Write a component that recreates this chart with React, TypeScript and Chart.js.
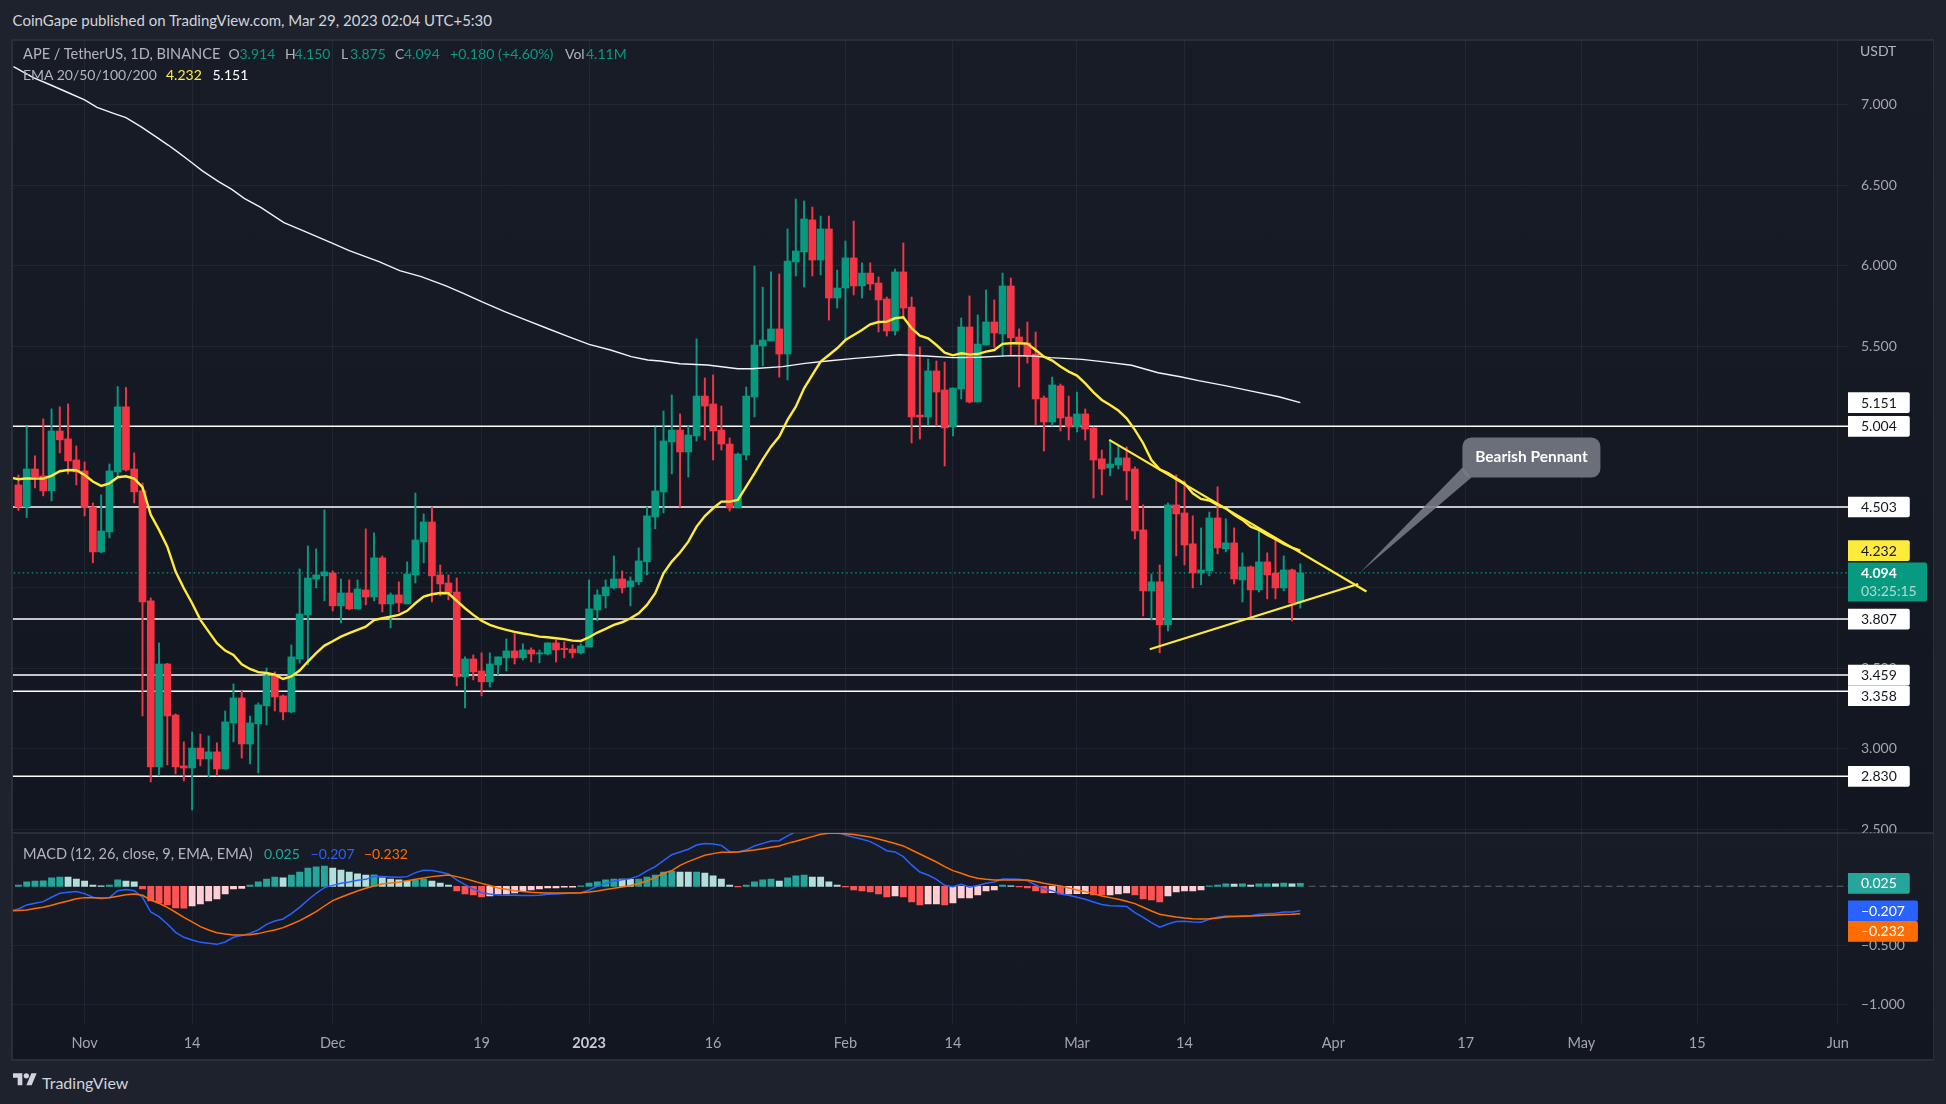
import React, { useEffect, useRef } from "react";
import { Chart, registerables } from "chart.js";

Chart.register(...registerables);

const FONT = "Lato, 'Open Sans', sans-serif";

// Day numbers count from 1 Nov 2022 = 0. The first candle is day -8.
const FIRST_CANDLE_DAY = -8;
const opens = [
  4.640,4.503,4.739,4.696,4.603,4.975,4.926,4.795,4.727,4.503,
  4.224,4.348,4.721,5.125,4.739,4.603,3.920,2.889,3.528,3.211,
  2.895,2.882,3.006,2.938,2.982,2.876,3.162,3.317,3.031,3.156,
  3.268,3.454,3.330,3.230,3.559,3.833,4.056,4.075,4.093,3.889,
  3.969,3.870,3.988,3.944,4.187,3.901,3.957,3.901,4.081,4.286,
  4.410,4.081,4.031,3.975,3.448,3.559,3.485,3.417,3.522,3.566,
  3.609,3.566,3.615,3.590,3.590,3.659,3.621,3.621,3.597,3.634,
  3.864,3.951,4.000,4.056,4.006,4.038,4.162,4.441,4.596,4.907,
  4.981,4.845,4.944,5.192,5.143,4.981,4.894,4.497,4.826,5.186,
  5.503,5.534,5.609,5.453,6.025,6.087,6.286,6.037,6.230,5.801,
  5.863,6.050,5.876,5.956,5.894,5.795,5.596,5.963,5.745,5.074,
  5.062,5.348,5.230,5.000,5.236,5.621,5.155,5.509,5.652,5.578,
  5.876,5.559,5.522,5.453,5.180,5.031,5.255,5.062,5.000,5.081,
  4.994,4.802,4.746,4.764,4.808,4.739,4.361,3.982,4.038,3.771,
  4.516,4.466,4.274,4.093,4.106,4.435,4.243,4.280,4.050,4.131,
  3.988,4.162,4.093,4.000,4.112,3.914,
];
const highs = [
  4.702,5.002,4.820,5.050,5.112,5.125,5.143,4.882,4.783,4.528,
  4.578,4.770,5.251,5.245,4.839,4.652,3.938,3.659,3.532,3.218,
  3.044,3.106,3.093,3.081,3.038,3.236,3.404,3.361,3.205,3.286,
  3.503,3.479,3.336,3.646,4.118,4.261,4.243,4.485,4.106,4.056,
  4.050,4.050,4.367,4.342,4.199,3.969,4.038,4.162,4.590,4.460,
  4.503,4.143,4.081,4.062,3.572,3.584,3.597,3.597,3.572,3.684,
  3.715,3.653,3.628,3.615,3.659,3.677,3.665,3.646,3.653,4.050,
  3.988,4.050,4.199,4.106,4.069,4.249,4.503,5.000,5.099,5.199,
  5.081,5.006,5.547,5.304,5.323,5.130,4.932,4.838,5.248,5.999,
  5.869,5.963,5.950,6.230,6.416,6.404,6.366,6.310,6.310,5.975,
  6.155,6.279,6.019,6.019,5.932,5.807,5.981,6.143,5.807,5.497,
  5.422,5.410,5.403,5.242,5.677,5.814,5.696,5.851,5.789,5.956,
  5.925,5.609,5.652,5.590,5.192,5.310,5.267,5.192,5.217,5.112,
  5.000,4.857,4.920,4.882,4.876,4.752,4.516,4.087,4.143,4.528,
  4.702,4.665,4.448,4.373,4.472,4.628,4.429,4.373,4.218,4.137,
  4.361,4.218,4.305,4.199,4.118,4.150,
];
const lows = [
  4.481,4.437,4.621,4.572,4.541,4.839,4.708,4.640,4.447,4.156,
  4.218,4.311,4.696,4.727,4.528,3.205,2.795,2.833,2.901,2.845,
  2.801,2.621,2.895,2.826,2.833,2.876,3.044,2.944,2.907,2.851,
  3.149,3.236,3.181,3.224,3.534,3.522,4.000,3.920,3.857,3.783,
  3.864,3.870,3.895,3.920,3.851,3.752,3.851,3.901,4.031,4.156,
  3.913,3.951,3.926,3.392,3.255,3.429,3.330,3.385,3.460,3.485,
  3.528,3.553,3.541,3.535,3.584,3.541,3.566,3.566,3.590,3.634,
  3.795,3.876,3.994,3.969,3.889,4.019,4.081,4.367,4.466,4.708,
  4.503,4.689,4.913,4.919,4.795,4.857,4.478,4.497,4.795,5.062,
  5.379,5.534,5.310,5.292,5.938,5.869,5.938,5.944,5.664,5.739,
  5.540,5.820,5.801,5.851,5.590,5.565,5.571,5.683,4.901,4.925,
  5.012,5.006,4.758,4.944,5.174,5.149,5.155,5.509,5.495,5.441,
  5.441,5.248,5.397,5.012,4.851,5.006,4.975,4.919,4.969,4.919,
  4.559,4.578,4.696,4.739,4.547,4.305,3.826,3.801,3.597,3.733,
  4.199,4.143,4.000,4.019,4.075,4.212,4.224,4.025,3.913,3.814,
  3.975,3.932,3.932,3.982,3.795,3.875,
];
const closes = [
  4.503,4.739,4.690,4.603,4.975,4.920,4.789,4.721,4.499,4.224,
  4.354,4.727,5.125,4.733,4.597,3.913,2.889,3.528,3.205,2.889,
  2.882,3.006,2.938,2.982,2.876,3.168,3.317,3.031,3.162,3.274,
  3.454,3.323,3.230,3.572,3.839,4.062,4.081,4.100,3.889,3.969,
  3.870,3.994,3.944,4.187,3.901,3.957,3.907,4.087,4.298,4.410,
  4.075,4.025,3.969,3.448,3.559,3.479,3.417,3.528,3.572,3.609,
  3.566,3.615,3.590,3.597,3.659,3.615,3.617,3.597,3.640,3.870,
  3.957,4.006,4.056,4.000,4.044,4.168,4.448,4.603,4.913,4.981,
  4.845,4.950,5.192,5.130,4.975,4.894,4.497,4.832,5.192,5.509,
  5.540,5.609,5.453,6.031,6.093,6.292,6.037,6.230,5.801,5.863,
  6.050,5.876,5.956,5.888,5.789,5.596,5.963,5.739,5.062,5.062,
  5.348,5.217,4.994,5.242,5.621,5.155,5.515,5.652,5.584,5.876,
  5.553,5.515,5.441,5.174,5.031,5.261,5.056,5.000,5.081,4.987,
  4.795,4.739,4.770,4.808,4.727,4.354,3.982,4.038,3.771,4.516,
  4.460,4.267,4.093,4.112,4.435,4.249,4.280,4.056,4.131,3.988,
  4.162,4.081,4.000,4.112,3.907,4.094,
];

// EMA 20, one reading per day from day -9.
const EMA_FIRST_DAY = -9;
const ema20 = [
  4.686,4.675,4.681,4.679,4.679,4.696,4.725,4.733,4.731,4.702,
  4.661,4.634,4.650,4.688,4.694,4.679,4.626,4.454,4.361,4.257,
  4.102,3.998,3.905,3.802,3.729,3.657,3.611,3.584,3.526,3.497,
  3.477,3.472,3.462,3.435,3.450,3.487,3.543,3.595,3.642,3.669,
  3.698,3.719,3.740,3.760,3.800,3.812,3.822,3.833,3.858,3.905,
  3.947,3.961,3.969,3.967,3.920,3.874,3.833,3.796,3.771,3.754,
  3.740,3.727,3.717,3.709,3.698,3.694,3.688,3.682,3.673,3.671,
  3.694,3.723,3.746,3.771,3.787,3.812,3.843,3.895,3.967,4.091,
  4.164,4.220,4.288,4.381,4.447,4.495,4.536,4.536,4.547,4.630,
  4.712,4.799,4.878,4.940,5.044,5.126,5.240,5.323,5.406,5.447,
  5.489,5.540,5.571,5.602,5.638,5.652,5.654,5.675,5.681,5.613,
  5.567,5.551,5.509,5.462,5.445,5.458,5.451,5.453,5.468,5.478,
  5.516,5.520,5.520,5.518,5.478,5.437,5.412,5.375,5.344,5.319,
  5.271,5.215,5.168,5.137,5.102,5.054,4.982,4.899,4.795,4.737,
  4.713,4.682,4.650,4.588,4.553,4.543,4.516,4.495,4.454,4.423,
  4.381,4.361,4.330,4.303,4.274,4.251,4.232,
];

// EMA 200, read where the curve bends.
const ema200Days = [
  -8.6,-6.2,-4.1,-2.1,0,1.5,3.5,5,6.8,8.6,10.1,11.2,12.9,14.2,16.2,17.8,19.3,21.3,24.1,26.4,30,32,35.6,38.1,40.7,43.7,
  45.8,48,50.8,53.4,55.9,58.5,61,63.6,66.1,68.1,69.6,72,75.3,79,80.7,84.4,87.1,89.8,93.1,95.8,98.5,101.7,105,108.2,112,
  114.7,116.8,120.6,123.3,126.6,129.8,132.5,134.7,137.9,141.1,144.4,147,
];
const ema200Values = [
  7.238,7.170,7.124,7.079,7.031,6.985,6.948,6.921,6.865,6.803,6.751,6.710,6.644,6.592,6.524,6.476,6.420,6.364,6.269,6.219,6.140,6.095,6.027,5.971,5.934,5.876,
  5.830,5.778,5.716,5.664,5.613,5.561,5.513,5.478,5.437,5.416,5.410,5.393,5.385,5.362,5.362,5.375,5.395,5.410,5.426,5.437,5.449,5.441,5.431,5.433,5.443,
  5.441,5.431,5.420,5.404,5.383,5.337,5.312,5.288,5.257,5.223,5.188,5.151,
];

const levels = [5.004, 4.503, 3.807, 3.459, 3.358, 2.83];
const lastPrice = 4.094;
const ema20Last = 4.232;
const ema200Last = 5.151;

const pennantUpperDays = [123.9, 155.0];
const pennantUpperPrices = [4.92, 3.978];
const pennantLowerDays = [128.8, 154.0];
const pennantLowerPrices = [3.619, 4.025];
const calloutText = "Bearish Pennant";
const calloutTipDay = 154.2;
const calloutTipPrice = 4.094;

const priceTicks = [2.5, 3, 3.5, 4, 4.5, 5, 5.5, 6, 6.5, 7];
const macdTicks = [-1, -0.5];
const dayTicks = [0, 13, 30, 48, 61, 76, 92, 105, 120, 133, 151, 167, 181, 195, 212];
const dayTickLabels = ["Nov", "14", "Dec", "19", "2023", "16", "Feb", "14", "Mar", "14", "Apr", "17", "May", "15", "Jun"];

// MACD histogram, one bar per candle.
const histogram = [
  .011,.037,.045,.046,.071,.079,.078,.062,.045,.011,
  .003,.011,.054,.045,.037,-.023,-.124,-.141,-.158,-.184,
  -.185,-.167,-.150,-.124,-.107,-.065,-.023,-.017,.011,.037,
  .062,.079,.071,.096,.121,.155,.164,.172,.155,.138,
  .121,.105,.096,.097,.071,.062,.054,.045,.054,.062,
  .045,.028,.011,-.040,-.065,-.073,-.090,-.082,-.065,-.064,
  -.056,-.040,-.031,-.023,-.014,-.013,-.008,-.007,.003,.028,
  .037,.054,.062,.061,.060,.062,.079,.096,.121,.130,
  .121,.120,.121,.113,.088,.062,.011,-.006,.011,.037,
  .054,.062,.045,.071,.088,.096,.079,.078,.037,.011,
  -.006,-.031,-.040,-.048,-.065,-.090,-.082,-.090,-.133,-.158,
  -.150,-.149,-.158,-.141,-.099,-.098,-.073,-.040,-.031,.011,
  .003,-.006,-.014,-.040,-.056,-.055,-.065,-.064,-.063,-.062,
  -.073,-.074,-.073,-.065,-.056,-.073,-.107,-.116,-.133,-.082,
  -.048,-.040,-.039,-.031,.003,.011,.020,.019,.020,.011,
  .020,.021,.020,.028,.020,.025,
];
// MACD and signal lines, one reading per day from day -9.
const macdLine = [
  -.209,-.192,-.158,-.144,-.130,-.093,-.059,-.051,-.045,-.062,
  -.093,-.105,-.096,-.037,-.028,-.037,-.093,-.218,-.257,-.319,
  -.390,-.432,-.455,-.475,-.483,-.492,-.472,-.432,-.418,-.398,
  -.370,-.322,-.294,-.277,-.232,-.178,-.116,-.059,-.011,.008,
  .025,.037,.051,.059,.082,.082,.079,.076,.082,.116,
  .136,.133,.121,.105,.054,.014,-.023,-.054,-.065,-.073,
  -.076,-.076,-.079,-.079,-.076,-.068,-.065,-.062,-.056,-.056,
  -.031,0,.025,.045,.056,.065,.088,.130,.167,.218,
  .268,.291,.314,.350,.362,.359,.347,.294,.291,.308,
  .342,.364,.384,.387,.427,.463,.492,.520,.534,.500,
  .463,.435,.415,.398,.379,.342,.302,.291,.251,.181,
  .121,.096,.059,.008,-.003,.017,-.008,.006,.025,.037,
  .062,.062,.059,.048,.011,-.023,-.037,-.065,-.076,-.093,
  -.110,-.133,-.155,-.164,-.167,-.172,-.223,-.263,-.308,-.347,
  -.319,-.299,-.297,-.302,-.305,-.280,-.263,-.251,-.251,-.251,
  -.249,-.237,-.232,-.229,-.218,-.218,-.207,
];
const signalLine = [
  -.209,-.206,-.201,-.189,-.178,-.161,-.141,-.124,-.105,-.096,
  -.096,-.099,-.096,-.085,-.071,-.065,-.076,-.116,-.144,-.178,
  -.220,-.263,-.302,-.342,-.370,-.393,-.404,-.412,-.412,-.410,
  -.401,-.384,-.370,-.350,-.322,-.291,-.254,-.215,-.167,-.121,
  -.093,-.065,-.040,-.017,.003,.020,.028,.034,.048,.059,
  .071,.082,.090,.096,.082,.065,.045,.025,.006,-.014,
  -.025,-.037,-.045,-.051,-.054,-.056,-.056,-.056,-.056,-.054,
  -.048,-.040,-.028,-.017,-.006,.006,.023,.045,.076,.110,
  .133,.178,.209,.237,.263,.277,.288,.288,.291,.299,
  .308,.319,.331,.342,.364,.381,.401,.421,.441,.449,
  .449,.446,.438,.429,.418,.401,.381,.362,.342,.308,
  .274,.240,.206,.167,.133,.110,.085,.068,.059,.054,
  .054,.054,.054,.054,.040,.025,.014,.003,-.014,-.031,
  -.045,-.062,-.082,-.096,-.110,-.127,-.147,-.178,-.209,-.237,
  -.249,-.260,-.268,-.274,-.277,-.274,-.268,-.260,-.257,-.254,
  -.251,-.249,-.246,-.243,-.240,-.237,-.232,
];
const macdLast = 0.025;
const macdLineLast = -0.207;
const signalLast = -0.232;

const UP = "#089981";
const DOWN = "#f23645";
const GRID = "rgba(240,243,250,0.06)";
const TICK = "#a3a6af";
const X_MIN = -8.658;
const X_MAX = 213.23;
const NUM_SIZE = 14;

const candleDays = opens.map((_, i) => FIRST_CANDLE_DAY + i);
const candleColors = opens.map((o, i) => (closes[i] >= o ? UP : DOWN));
const pairs = (xs: number[], ys: number[]) => xs.map((x, i) => ({ x, y: ys[i] }));
const daily = (first: number, ys: number[]) => ys.map((y, i) => ({ x: first + i, y }));
const fmt = (v: number) => (v < 0 ? "\u2212" : "") + Math.abs(v).toFixed(3);

const histColors = histogram.map((v, i) => {
  const prev = i > 0 ? histogram[i - 1] : 0;
  if (v >= 0) return v >= prev ? "#26a69a" : "#b2dfdb";
  return v < prev ? "#ff5252" : "#ffcdd2";
});

type Tag = { value: number; text: string; bg: string; fg: string; sub?: string };

const tagPlugin = (id: string, tags: Tag[]) => ({
  id,
  afterDraw(chart: any) {
    const { ctx } = chart;
    const y = chart.scales.y;
    const left = chart.chartArea.right;
    const H = 20.7;
    const items = tags
      .map((t) => ({ ...t, cy: y.getPixelForValue(t.value) }))
      .sort((a, b) => a.cy - b.cy);
    let lastBottom = -1e9;
    ctx.save();
    ctx.font = `${NUM_SIZE}px ${FONT}`;
    ctx.textBaseline = "middle";
    ctx.textAlign = "left";
    for (const t of items) {
      let top = t.cy - H / 2;
      if (top < lastBottom) top = lastBottom;
      const h = t.sub ? 39 : H;
      const w = t.sub ? 79 : Math.max(58, 13 + ctx.measureText(t.text).width + 13);
      ctx.fillStyle = t.bg;
      ctx.beginPath();
      ctx.roundRect(left, top, w, h, [0, 2, 2, 0]);
      ctx.fill();
      ctx.fillStyle = t.fg;
      ctx.font = t.sub ? `bold ${NUM_SIZE}px ${FONT}` : `${NUM_SIZE}px ${FONT}`;
      ctx.fillText(t.text, left + 13, top + H / 2 + 0.5);
      if (t.sub) {
        ctx.font = `${NUM_SIZE}px ${FONT}`;
        ctx.fillStyle = "rgba(255,255,255,0.66)";
        ctx.fillText(t.sub, left + 13, top + 29);
      }
      ctx.font = `${NUM_SIZE}px ${FONT}`;
      lastBottom = top + h;
    }
    ctx.restore();
  },
});

const calloutPlugin = {
  id: "callout",
  afterDatasetsDraw(chart: any) {
    const { ctx } = chart;
    const tipX = chart.scales.x.getPixelForValue(calloutTipDay);
    const tipY = chart.scales.y.getPixelForValue(calloutTipPrice);
    const bx = tipX + 102.6;
    const by = tipY - 135.3;
    const bw = 138;
    const bh = 40;
    ctx.save();
    ctx.fillStyle = "rgba(120,123,134,0.88)";
    ctx.beginPath();
    ctx.roundRect(bx, by, bw, bh, 9);
    ctx.fill();
    ctx.beginPath();
    ctx.moveTo(tipX, tipY);
    ctx.lineTo(bx, by + bh - 10);
    ctx.lineTo(bx + 9, by + bh);
    ctx.closePath();
    ctx.fill();
    ctx.fillStyle = "#ffffff";
    ctx.font = `bold 15.5px ${FONT}`;
    ctx.textAlign = "center";
    ctx.textBaseline = "middle";
    ctx.fillText(calloutText, bx + bw / 2, by + 19);
    ctx.restore();
  },
};

const noPad = (s: any) => {
  s.paddingTop = 0;
  s.paddingBottom = 0;
  s.paddingLeft = 0;
  s.paddingRight = 0;
};
const setTicks = (values: number[]) => (s: any) => {
  s.ticks = values.map((value) => ({ value }));
};

const yAxis = (min: number, max: number, values: number[]) => ({
  type: "linear",
  position: "right",
  min,
  max,
  afterBuildTicks: setTicks(values),
  afterFit: (s: any) => {
    s.width = 85;
    noPad(s);
  },
  border: { display: false },
  grid: { color: GRID, lineWidth: 1, drawTicks: false },
  ticks: {
    padding: 13,
    color: TICK,
    font: { family: FONT, size: NUM_SIZE },
    callback: (v: number) => fmt(v),
  },
});

const lineSet = (data: any[], color: string, width: number, order: number, extra: any = {}) => ({
  type: "line",
  data,
  borderColor: color,
  borderWidth: width,
  pointRadius: 0,
  tension: 0,
  order,
  ...extra,
});

const baseOptions = {
  responsive: false,
  maintainAspectRatio: false,
  animation: false,
  devicePixelRatio: 1,
  events: [],
  layout: { padding: 0 },
  plugins: { legend: { display: false }, tooltip: { enabled: false } },
};

function Txt({ x, y, color, size = 14.6, weight = 400, children }: any) {
  return (
    <span
      style={{
        position: "absolute",
        left: x,
        top: y,
        transform: "translateY(-50%)",
        color,
        fontSize: size,
        fontWeight: weight,
        fontFamily: FONT,
        whiteSpace: "nowrap",
        lineHeight: 1,
      }}
    >
      {children}
    </span>
  );
}

export default function App() {
  const mainRef = useRef<HTMLCanvasElement>(null);
  const macdRef = useRef<HTMLCanvasElement>(null);

  useEffect(() => {
    const levelSets = levels.map((v) =>
      lineSet([{ x: X_MIN - 1, y: v }, { x: X_MAX + 1, y: v }], "#ffffff", 1.5, 50)
    );
    const main = new Chart(mainRef.current as any, {
      type: "bar",
      data: {
        datasets: [
          ...levelSets,
          lineSet([{ x: X_MIN - 1, y: lastPrice }, { x: X_MAX + 1, y: lastPrice }], UP, 1.2, 45, { borderDash: [1.5, 3] }),
          {
            type: "bar",
            data: candleDays.map((x, i) => ({ x, y: [lows[i], highs[i]] })),
            backgroundColor: candleColors,
            barThickness: 1.3,
            grouped: false,
            minBarLength: 1,
            order: 40,
          },
          {
            type: "bar",
            data: candleDays.map((x, i) => ({ x, y: [opens[i], closes[i]] })),
            backgroundColor: candleColors,
            barThickness: 7,
            grouped: false,
            minBarLength: 1.2,
            order: 30,
          },
          lineSet(pairs(ema200Days, ema200Values), "#f0f3fa", 1.4, 25),
          lineSet(daily(EMA_FIRST_DAY, ema20), "#ffeb3b", 2.4, 20),
          lineSet(pairs(pennantUpperDays, pennantUpperPrices), "#ffeb3b", 2.2, 10),
          lineSet(pairs(pennantLowerDays, pennantLowerPrices), "#ffeb3b", 2.2, 10),
        ] as any,
      },
      options: {
        ...baseOptions,
        scales: {
          x: {
            type: "linear",
            min: X_MIN,
            max: X_MAX,
            offset: false,
            afterBuildTicks: setTicks(dayTicks),
            afterFit: (s: any) => {
              s.height = 0;
              noPad(s);
            },
            border: { display: false },
            grid: { color: GRID, lineWidth: 1, drawTicks: false, offset: false },
            ticks: { display: false },
          },
          y: yAxis(2.4781, 7.3973, priceTicks),
        },
      } as any,
      plugins: [
        calloutPlugin,
        tagPlugin("priceTags", [
          ...levels.map((v) => ({ value: v, text: fmt(v), bg: "#ffffff", fg: "#131722" })),
          { value: ema200Last, text: fmt(ema200Last), bg: "#ffffff", fg: "#131722" },
          { value: ema20Last, text: fmt(ema20Last), bg: "#ffeb3b", fg: "#131722" },
          { value: lastPrice, text: fmt(lastPrice), bg: UP, fg: "#ffffff", sub: "03:25:15" },
        ]),
      ] as any,
    });

    const macd = new Chart(macdRef.current as any, {
      type: "bar",
      data: {
        datasets: [
          lineSet([{ x: 148, y: 0 }, { x: X_MAX + 1, y: 0 }], "rgba(120,123,134,0.75)", 1.1, 60, { borderDash: [7, 4] }),
          {
            type: "bar",
            data: candleDays.map((x, i) => ({ x, y: histogram[i] })),
            backgroundColor: histColors,
            barThickness: 6.2,
            grouped: false,
            order: 40,
          },
          lineSet(daily(EMA_FIRST_DAY, macdLine), "#2962ff", 1.5, 20),
          lineSet(daily(EMA_FIRST_DAY, signalLine), "#ff6d00", 1.5, 10),
        ] as any,
      },
      options: {
        ...baseOptions,
        scales: {
          x: {
            type: "linear",
            min: X_MIN,
            max: X_MAX,
            offset: false,
            afterBuildTicks: setTicks(dayTicks),
            afterFit: (s: any) => {
              s.height = 34.3;
              noPad(s);
            },
            border: { display: false },
            grid: { color: GRID, lineWidth: 1, drawTicks: false, offset: false },
            ticks: {
              autoSkip: false,
              maxRotation: 0,
              padding: 10,
              color: (c: any) => (c.tick && c.tick.value === 61 ? "#c9cbd3" : TICK),
              font: (c: any) => ({ family: FONT, size: NUM_SIZE + 0.5, weight: c.tick && c.tick.value === 61 ? "bold" : "normal" }),
              callback: (v: number) => dayTickLabels[dayTicks.indexOf(v)],
            },
          },
          y: yAxis(-1.1729, 0.4517, macdTicks),
        },
      } as any,
      plugins: [
        tagPlugin("macdTags", [
          { value: macdLast, text: fmt(macdLast), bg: "#26a69a", fg: "#ffffff" },
          { value: macdLineLast, text: fmt(macdLineLast), bg: "#2962ff", fg: "#ffffff" },
          { value: signalLast, text: fmt(signalLast), bg: "#ff6d00", fg: "#ffffff" },
        ]),
      ] as any,
    });

    return () => {
      main.destroy();
      macd.destroy();
    };
  }, []);

  const paneGrad = "linear-gradient(#181c27, #121621)";
  return (
    <div style={{ position: "absolute", left: 0, top: 0, width: 1946, height: 1104, background: "#1e222d", overflow: "hidden" }}>
      <div style={{ position: "absolute", left: 11, top: 39, width: 1923, height: 1022, background: "#2a2e39" }} />
      <div style={{ position: "absolute", left: 13, top: 41, width: 1920, height: 791, background: paneGrad }} />
      <div style={{ position: "absolute", left: 13, top: 834, width: 1920, height: 225, background: paneGrad }} />
      <canvas ref={mainRef} width={1920} height={792} style={{ position: "absolute", left: 13, top: 41, width: 1920, height: 792 }} />
      <canvas ref={macdRef} width={1920} height={226} style={{ position: "absolute", left: 13, top: 833, width: 1920, height: 226 }} />

      <Txt x={12.6} y={20} color="#d1d4dc" size={15}>CoinGape published on TradingView.com, Mar 29, 2023 02:04 UTC+5:30</Txt>

      <Txt x={23} y={54} color="#b2b5be">APE / TetherUS, 1D, BINANCE</Txt>
      <Txt x={228.5} y={54} color="#b2b5be" size={NUM_SIZE}>O</Txt>
      <Txt x={239.5} y={54} color={UP} size={NUM_SIZE}>3.914</Txt>
      <Txt x={285} y={54} color="#b2b5be" size={NUM_SIZE}>H</Txt>
      <Txt x={294.6} y={54} color={UP} size={NUM_SIZE}>4.150</Txt>
      <Txt x={341} y={54} color="#b2b5be" size={NUM_SIZE}>L</Txt>
      <Txt x={350} y={54} color={UP} size={NUM_SIZE}>3.875</Txt>
      <Txt x={395} y={54} color="#b2b5be" size={NUM_SIZE}>C</Txt>
      <Txt x={404} y={54} color={UP} size={NUM_SIZE}>4.094</Txt>
      <Txt x={450} y={54} color={UP} size={14.2}>+0.180 (+4.60%)</Txt>
      <Txt x={565} y={54} color="#b2b5be" size={NUM_SIZE}>Vol</Txt>
      <Txt x={586} y={54} color={UP} size={NUM_SIZE}>4.11M</Txt>

      <Txt x={23} y={75} color="#b2b5be" size={NUM_SIZE}>EMA 20/50/100/200</Txt>
      <Txt x={166} y={75} color="#ffeb3b" size={NUM_SIZE}>4.232</Txt>
      <Txt x={212.5} y={75} color="#ffffff" size={NUM_SIZE}>5.151</Txt>

      <Txt x={1860} y={51} color="#b2b5be" size={NUM_SIZE}>USDT</Txt>

      <Txt x={23} y={853.7} color="#b2b5be" size={14.6}>MACD (12, 26, close, 9, EMA, EMA)</Txt>
      <Txt x={264} y={853.7} color="#26a69a" size={NUM_SIZE}>0.025</Txt>
      <Txt x={310.6} y={853.7} color="#2962ff" size={NUM_SIZE}>{"\u22120.207"}</Txt>
      <Txt x={364} y={853.7} color="#ff6d00" size={NUM_SIZE}>{"\u22120.232"}</Txt>

      <svg style={{ position: "absolute", left: 12.6, top: 1073.3 }} width={24} height={15} viewBox="0 4 36 22">
        <path fill="#d1d4dc" d="M14 22H7V11H0V4h14v18zM28 22h-8l7.5-18h8L28 22z" />
        <circle fill="#d1d4dc" cx="20" cy="8" r="4" />
      </svg>
      <Txt x={42} y={1082.7} color="#d1d4dc" size={16}>TradingView</Txt>
    </div>
  );
}
